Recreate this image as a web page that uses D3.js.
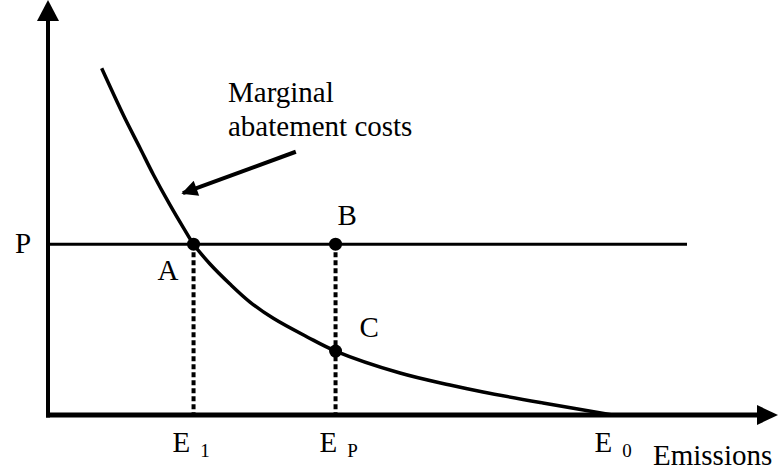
<!DOCTYPE html>
<html>
<head>
<meta charset="utf-8">
<script src="https://cdn.jsdelivr.net/npm/d3@7"></script>
<style>
  html, body { margin: 0; padding: 0; background: #fff; }
  svg { display: block; }
</style>
</head>
<body>
<svg id="chart" width="779" height="472"></svg>
<script>
// ---- data (emissions on x, price / marginal cost on y) ----
const curveX = [0.756, 1.061, 1.296, 1.483, 1.718, 1.906, 2.05, 2.282, 2.563, 2.845, 3.173, 3.644, 4.05, 4.958, 5.662, 6.127, 6.972, 7.95];
const curveY = [8.890, 7.692, 6.846, 6.167, 5.385, 4.803, 4.38, 3.872, 3.359, 2.897, 2.479, 2.008, 1.64, 1.077, 0.769, 0.590, 0.308, 0.00];
const priceP = 4.38;
const priceLineEnd = 9.0;
const emissionLevels = ["E1", "EP", "E0"];
const emissionValues = [2.05, 4.05, 7.95];
const emissionSubs = ["1", "P", "0"];
const pointNames = ["A", "B", "C"];
const pointX = [2.05, 4.05, 4.05];
const pointY = [4.38, 4.38, 1.64];
const annotationText = ["Marginal", "abatement costs"];
const annotationArrowFrom = [3.49, 6.75];
const annotationArrowTo = [1.90, 5.69];
const xAxisLabel = "Emissions";
const yAxisLabel = "P";

const FONT = "Liberation Serif";
const FS = "29px";

const svg = d3.select("#chart");
const x = d3.scaleLinear().domain([0, 10]).range([48, 758]);
const y = d3.scaleLinear().domain([0, 10]).range([415, 25]);

// arrow marker for annotation
const defs = svg.append("defs");
defs.append("marker")
  .attr("id", "ah").attr("viewBox", "0 0 10 10")
  .attr("refX", 9).attr("refY", 5)
  .attr("markerUnits", "userSpaceOnUse")
  .attr("markerWidth", 20).attr("markerHeight", 16)
  .attr("orient", "auto")
  .append("path").attr("d", "M0,0 L10,5 L0,10 Z").attr("fill", "#000");

// price line P
svg.append("line")
  .attr("x1", x(0)).attr("x2", x(priceLineEnd))
  .attr("y1", y(priceP)).attr("y2", y(priceP))
  .attr("stroke", "#000").attr("stroke-width", 3);

// dotted drops
const drops = [
  {x: emissionValues[0], y: priceP},
  {x: emissionValues[1], y: priceP}
];
svg.selectAll("line.drop").data(drops).enter().append("line")
  .attr("class", "drop")
  .attr("x1", d => x(d.x)).attr("x2", d => x(d.x))
  .attr("y1", d => y(d.y)).attr("y2", y(0))
  .attr("stroke", "#000").attr("stroke-width", 4)
  .attr("stroke-dasharray", "5,3");

// marginal abatement cost curve
const curvePts = curveX.map((v, i) => [v, curveY[i]]);
svg.append("path")
  .datum(curvePts)
  .attr("d", d3.line().x(d => x(d[0])).y(d => y(d[1])).curve(d3.curveCatmullRom.alpha(0.5)))
  .attr("fill", "none").attr("stroke", "#000").attr("stroke-width", 3.5)
  .attr("stroke-linejoin", "round");

// axes
const axisG = svg.append("g");
axisG.append("line")
  .attr("x1", x(0)).attr("x2", x(0))
  .attr("y1", y(0) + 2.5).attr("y2", y(10.1))
  .attr("stroke", "#000").attr("stroke-width", 4);
axisG.append("path")
  .attr("d", `M${x(0) - 11},${y(10.1)} L${x(0) + 11},${y(10.1)} L${x(0)},${y(10.1) - 21} Z`)
  .attr("fill", "#000");
axisG.append("line")
  .attr("x1", x(0) - 2).attr("x2", x(10))
  .attr("y1", y(0)).attr("y2", y(0))
  .attr("stroke", "#000").attr("stroke-width", 5);
axisG.append("path")
  .attr("d", `M${x(10) - 1},${y(0) - 10} L${x(10) - 1},${y(0) + 10} L${x(10) + 20},${y(0)} Z`)
  .attr("fill", "#000");

// points
svg.selectAll("circle.pt").data(pointNames).enter().append("circle")
  .attr("class", "pt")
  .attr("cx", (d, i) => x(pointX[i]))
  .attr("cy", (d, i) => y(pointY[i]))
  .attr("r", 6.5).attr("fill", "#000");

// point labels
const ptOffsets = [[-36, 36], [2, -19], [24, -14]];
svg.selectAll("text.ptl").data(pointNames).enter().append("text")
  .attr("class", "ptl")
  .attr("x", (d, i) => x(pointX[i]) + ptOffsets[i][0])
  .attr("y", (d, i) => y(pointY[i]) + ptOffsets[i][1])
  .style("font-family", FONT)
  .style("font-size", FS)
  .text(d => d);

// P label
svg.append("text")
  .attr("x", x(0) - 33).attr("y", y(priceP) + 9)
  .style("font-family", FONT)
  .style("font-size", FS).text(yAxisLabel);

// emission tick labels
const eOffsets = [-21, -16, -18];
const eLab = svg.selectAll("text.elab").data(emissionLevels).enter().append("text")
  .attr("class", "elab")
  .attr("x", (d, i) => x(emissionValues[i]) + eOffsets[i])
  .attr("y", y(0) + 37)
  .style("font-family", FONT)
  .style("font-size", FS);
eLab.append("tspan").text("E");
eLab.append("tspan")
  .attr("dx", 10).attr("dy", 5)
  .style("font-size", "19px")
  .text((d, i) => emissionSubs[i]);

// x axis title
svg.append("text")
  .attr("x", 653).attr("y", y(0) + 50)
  .style("font-family", FONT)
  .style("font-size", FS).text(xAxisLabel);

// annotation
svg.selectAll("text.ann").data(annotationText).enter().append("text")
  .attr("class", "ann")
  .attr("x", 228)
  .attr("y", (d, i) => 102 + i * 34)
  .style("font-family", FONT)
  .style("font-size", FS)
  .text(d => d);
svg.append("line")
  .attr("x1", x(annotationArrowFrom[0])).attr("y1", y(annotationArrowFrom[1]))
  .attr("x2", x(annotationArrowTo[0])).attr("y2", y(annotationArrowTo[1]))
  .attr("stroke", "#000").attr("stroke-width", 4)
  .attr("marker-end", "url(#ah)");
</script>
</body>
</html>
